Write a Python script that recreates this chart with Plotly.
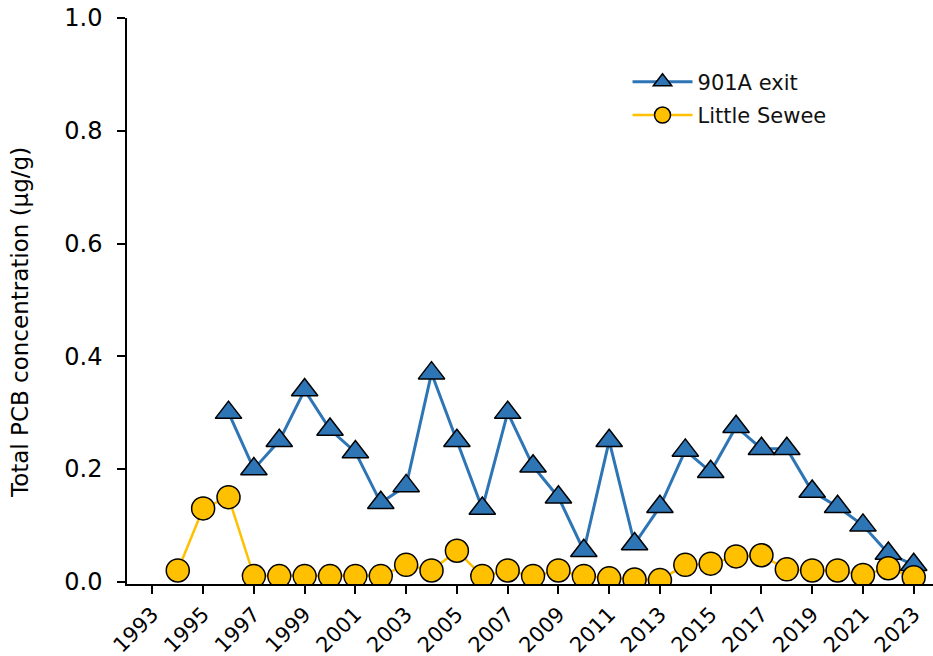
import plotly.graph_objects as go

years_901a = list(range(1996, 2024))
pcb_901a = [0.30, 0.20, 0.25, 0.34, 0.27, 0.23, 0.14, 0.17, 0.37, 0.25,
            0.13, 0.30, 0.205, 0.15, 0.055, 0.25, 0.067, 0.133, 0.233, 0.195,
            0.275, 0.236, 0.236, 0.16, 0.133, 0.10, 0.05, 0.03]

years_ls = list(range(1994, 2024))
pcb_ls = [0.02, 0.13, 0.15, 0.01, 0.01, 0.01, 0.01, 0.01, 0.01, 0.03,
          0.02, 0.055, 0.01, 0.02, 0.01, 0.02, 0.01, 0.006, 0.004, 0.003,
          0.03, 0.032, 0.045, 0.047, 0.022, 0.02, 0.02, 0.012, 0.024, 0.008]

tick_years = list(range(1993, 2024, 2))
y_ticks = [0.0, 0.2, 0.4, 0.6, 0.8, 1.0]
y_title = "Total PCB concentration (μg/g)"

FONT = "DejaVu Sans"
W, H = 933, 656
L, T, B = 127, 18, 72

fig = go.Figure()
fig.add_trace(go.Scatter(
    x=years_901a, y=pcb_901a, name="901A exit", mode="lines+markers",
    legendgroup="a",
    line=dict(color="#2E75B6", width=3),
    marker=dict(symbol="triangle-up", size=23, color="#2E75B6",
                line=dict(color="black", width=1.5)),
))
fig.add_trace(go.Scatter(
    x=years_ls, y=pcb_ls, name="Little Sewee", mode="lines+markers",
    legendgroup="b",
    line=dict(color="#FFC000", width=2.5),
    marker=dict(symbol="circle", size=23, color="#FFC000",
                line=dict(color="black", width=1.5)),
))

fig.update_layout(
    width=W, height=H,
    margin=dict(l=L, r=0, t=T, b=B, autoexpand=False),
    paper_bgcolor="white", plot_bgcolor="white",
    font=dict(family=FONT, size=18, color="black"),
    showlegend=True,
    legend=dict(x=0.621, y=0.923, xanchor="left", yanchor="top",
                bgcolor="rgba(0,0,0,0)", font=dict(size=21, color="#111111"),
                itemwidth=60, tracegroupgap=3),
    xaxis=dict(range=[1992.0, 2023.76], tickmode="array", tickvals=tick_years,
               ticktext=[str(t) for t in tick_years], tickangle=-45,
               showline=True, linecolor="black", linewidth=1.5,
               ticks="outside", ticklen=8, tickcolor="black", tickwidth=1.5,
               showgrid=False, zeroline=False, tickfont=dict(size=21),
               automargin=False),
    yaxis=dict(range=[-0.004, 1.0], tickmode="array", tickvals=y_ticks,
               ticktext=[f"{v:.1f}" for v in y_ticks],
               showline=True, linecolor="black", linewidth=1.5,
               ticks="outside", ticklen=8, tickcolor="black", tickwidth=1.5,
               showgrid=False, zeroline=False, tickfont=dict(size=24),
               ticklabelstandoff=10, automargin=False),
    annotations=[dict(text=y_title, textangle=-90, showarrow=False,
                      xref="paper", yref="paper",
                      x=(20 - L) / (W - L), y=(H - B - 323) / (H - B - T),
                      xanchor="center", yanchor="middle",
                      font=dict(size=23, color="black"))],
)

# remove the default page margin so the figure fills the window exactly
fig.write_html("out.html", config={"displayModeBar": False},
               post_script="document.body.style.margin='0';")
